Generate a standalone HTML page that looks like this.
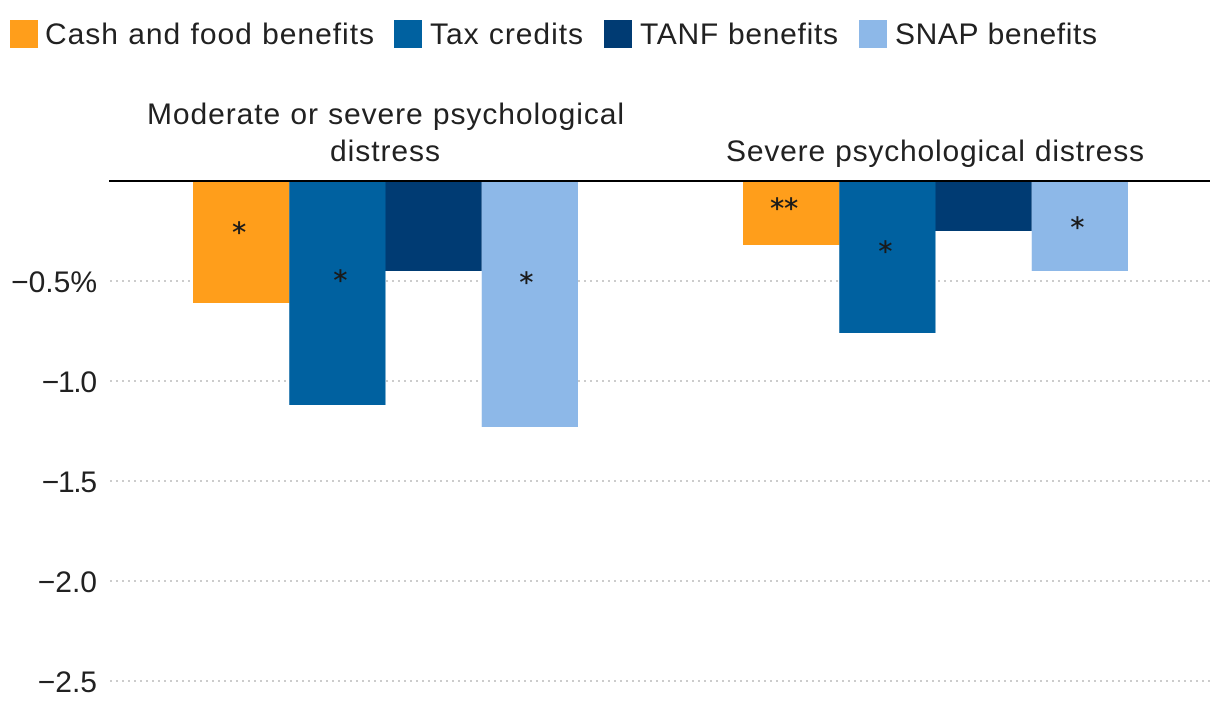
<!DOCTYPE html>
<html lang="en">
<head>
<meta charset="utf-8">
<title>Change in psychological distress by benefit type</title>
<style>
html,body{margin:0;padding:0;background:#fff;width:1220px;height:720px;overflow:hidden}
svg{display:block}
text{font-family:"Liberation Sans",sans-serif;font-size:30px;fill:#212121}
.s0{fill:#ff9e1b}
.s1{fill:#0061a0}
.s2{fill:#003b73}
.s3{fill:#8db8e8}
.grid{stroke:#cccccc;stroke-width:2;stroke-dasharray:2 4;fill:none}
.zero{stroke:#000;stroke-width:2}
.star{font-family:"DejaVu Sans",sans-serif;font-size:28px;text-anchor:middle;fill:#1a1a1a;stroke:#1a1a1a;stroke-width:.35}
.tick{text-anchor:end}
</style>
</head>
<body>
<svg id="chart" xmlns="http://www.w3.org/2000/svg" width="1220" height="720" viewBox="0 0 1220 720">
  <g>
    <g>
      <rect class="s0" x="10" y="20" width="28" height="28"/>
      <text x="45" y="44" textLength="329" lengthAdjust="spacing">Cash and food benefits</text>
    </g>
    <g>
      <rect class="s1" x="394" y="20" width="28" height="28"/>
      <text x="430" y="44" textLength="153" lengthAdjust="spacing">Tax credits</text>
    </g>
    <g>
      <rect class="s2" x="604" y="20" width="28" height="28"/>
      <text x="640" y="44" textLength="198" lengthAdjust="spacing">TANF benefits</text>
    </g>
    <g>
      <rect class="s3" x="859" y="20" width="28" height="28"/>
      <text x="895" y="44" textLength="202" lengthAdjust="spacing">SNAP benefits</text>
    </g>
  </g>
  <g id="grid"></g>
  <g id="ticks"></g>
  <g id="bars"></g>
  <line class="zero" x1="109" x2="1210" y1="181" y2="181"/>
  <g id="stars"></g>
  <g>
    <text x="147" y="124" textLength="477" lengthAdjust="spacing">Moderate or severe psychological</text>
    <text x="330" y="161" textLength="110" lengthAdjust="spacing">distress</text>
    <text x="726" y="161" textLength="418" lengthAdjust="spacing">Severe psychological distress</text>
  </g>
</svg>
<script>
const categoryKeys = ["moderate", "severe"];
const seriesKeys = ["cash-and-food", "tax-credits", "tanf", "snap"];
const moderateValues = [-0.61, -1.12, -0.45, -1.23];
const severeValues = [-0.32, -0.76, -0.25, -0.45];
const moderateStars = ["*", "*", "", "*"];
const severeStars = ["**", "*", "", "*"];
const tickValues = [-0.5, -1.0, -1.5, -2.0, -2.5];
const tickLabels = ["\u22120.5%", "\u22121.0", "\u22121.5", "\u22122.0", "\u22122.5"];

const NS = "http://www.w3.org/2000/svg";
const plotLeft = 110.5, bandWidth = 550, groupShare = 0.7;
const zeroY = 181, pxPerUnit = 200;
function yScale(v) { return zeroY - v * pxPerUnit; }
function bandCenter(i) { return plotLeft + bandWidth * (i + 0.5); }
function barWidth() { return bandWidth * groupShare / seriesKeys.length; }
function barX(c, s) { return bandCenter(c) - bandWidth * groupShare / 2 + s * barWidth(); }
function make(tag, parent) {
  const el = document.createElementNS(NS, tag);
  parent.appendChild(el);
  return el;
}

const gridLayer = document.getElementById("grid");
const tickLayer = document.getElementById("ticks");
tickValues.forEach(function (v, i) {
  const line = make("line", gridLayer);
  line.setAttribute("class", "grid");
  line.setAttribute("x1", 110);
  line.setAttribute("x2", 1210);
  line.setAttribute("y1", yScale(v));
  line.setAttribute("y2", yScale(v));
  
  
  const label = make("text", tickLayer);
  label.setAttribute("class", "tick");
  label.setAttribute("x", 97);
  label.setAttribute("y", yScale(v) + 11);
  label.textContent = tickLabels[i];
  
  
  /* the reference face sets the digit 1 narrower than other numerals */
  if (tickLabels[i].indexOf("1") >= 0) {
    label.setAttribute("textLength", label.getComputedTextLength() - 4);
    label.setAttribute("lengthAdjust", "spacing");
  }
});

const barLayer = document.getElementById("bars");
const starLayer = document.getElementById("stars");
const groupValues = [moderateValues, severeValues];
const groupStars = [moderateStars, severeStars];
/* hand-placed annotation offsets, relative to each bar's midpoint */
const starShiftX = [[-2, 3, 0, -3.5], [-7, -2, 0, -2.5]];
const starShiftY = [[-13, -16, 0, -25], [-8, -9, 0, -2]];
const starBaseline = 13;

groupValues.forEach(function (values, c) {
  values.forEach(function (v, s) {
    const top = Math.min(yScale(v), zeroY);
    const h = Math.abs(yScale(v) - zeroY);
    const rect = make("rect", barLayer);
    rect.setAttribute("class", "s" + s);
    rect.setAttribute("x", barX(c, s));
    rect.setAttribute("y", top);
    rect.setAttribute("width", barWidth());
    rect.setAttribute("height", h);
    
    
    if (groupStars[c][s]) {
      const star = make("text", starLayer);
      star.setAttribute("class", "star");
      star.setAttribute("x", barX(c, s) + barWidth() / 2 + starShiftX[c][s]);
      star.setAttribute("y", top + h / 2 + starShiftY[c][s] + starBaseline);
      star.textContent = groupStars[c][s];
      
      
    }
  });
});
</script>
</body>
</html>
